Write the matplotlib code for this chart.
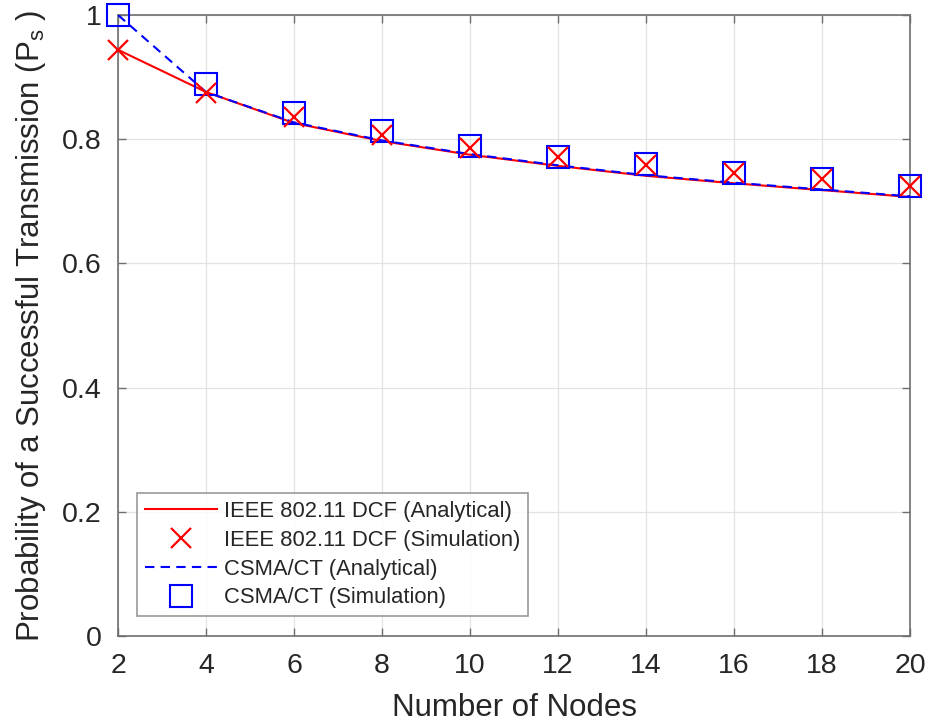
import matplotlib
matplotlib.use("Agg")
import matplotlib.pyplot as plt
from matplotlib.ticker import FormatStrFormatter

plt.rcParams['font.family'] = ['Liberation Sans', 'DejaVu Sans']
plt.rcParams['mathtext.default'] = 'regular'

# Number of nodes
nodes = [2, 4, 6, 8, 10, 12, 14, 16, 18, 20]
# Probability of a successful transmission
dcf_analytical = [0.944, 0.876, 0.826, 0.797, 0.775, 0.757, 0.741, 0.729, 0.718, 0.707]
dcf_simulation = [0.944, 0.874, 0.836, 0.807, 0.786, 0.771, 0.759, 0.746, 0.736, 0.725]
csma_analytical = [1.000, 0.876, 0.827, 0.798, 0.776, 0.758, 0.742, 0.730, 0.719, 0.708]
csma_simulation = [1.000, 0.889, 0.842, 0.813, 0.789, 0.772, 0.760, 0.746, 0.736, 0.725]
labels = ['IEEE 802.11 DCF (Analytical)', 'IEEE 802.11 DCF (Simulation)',
          'CSMA/CT (Analytical)', 'CSMA/CT (Simulation)']

txt = '#262626'
axc = '#6e6e6e'

fig = plt.figure(figsize=(9.33, 7.27), dpi=100)
ax = fig.add_axes([118 / 933, 91 / 727, 792 / 933, 621 / 727])

ax.plot(nodes, dcf_analytical, color='red', lw=1.5, label=labels[0], zorder=3)
ax.plot(nodes, dcf_simulation, ls='none', marker='x', ms=14.5, mew=1.6,
        color='red', label=labels[1], zorder=5, clip_on=False)
ax.plot(nodes, csma_analytical, color='blue', lw=1.5, dashes=(4.5, 3),
        label=labels[2], zorder=4)
ax.plot(nodes, csma_simulation, ls='none', marker='s', ms=15.5, mew=1.5,
        mfc='none', mec='blue', label=labels[3], zorder=4, clip_on=False)

ax.set_xlim(2, 20)
ax.set_ylim(0, 1)
ax.set_xticks(range(2, 21, 2))
ax.set_yticks([0, 0.2, 0.4, 0.6, 0.8, 1])
ax.yaxis.set_major_formatter(FormatStrFormatter('%g'))
ax.grid(True, color='#e3e3e3', lw=0.9)
ax.set_axisbelow(True)
for s in ax.spines.values():
    s.set_color(axc)
    s.set_linewidth(1.2)
ax.tick_params(direction='in', length=6, width=1.0, color=axc,
               top=True, right=True, labelsize=20.5, labelcolor=txt, pad=12)

ax.set_xlabel('Number of Nodes', fontsize=22.5, color=txt, labelpad=10)
ax.set_ylabel('Probability of a Successful Transmission (P$_s$ )',
              fontsize=22.5, color=txt, labelpad=10)

leg = ax.legend(loc='lower left', bbox_to_anchor=(0.024, 0.032), fontsize=15.8,
                frameon=True, fancybox=False, edgecolor='#808080',
                handlelength=3.3, handletextpad=0.3, labelspacing=0.36,
                borderpad=0.35, borderaxespad=0)
leg.get_frame().set_linewidth(1.2)
for t in leg.get_texts():
    t.set_color(txt)

fig.savefig('out.png', dpi=100)
